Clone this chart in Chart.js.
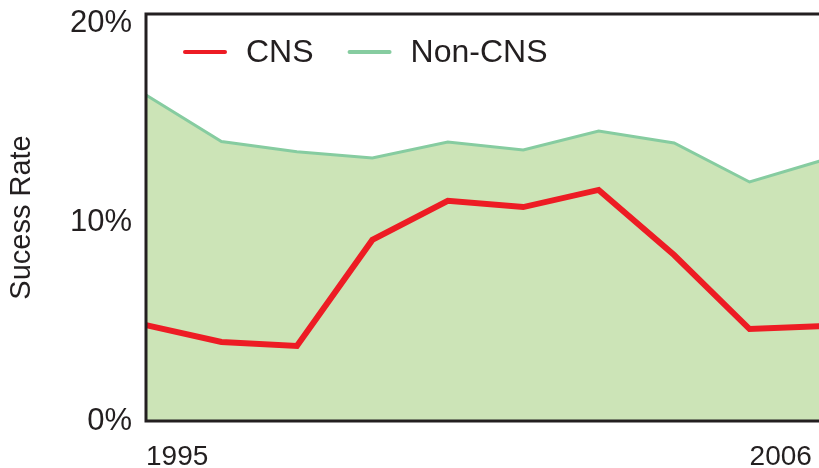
<!DOCTYPE html>
<html>
<head>
<meta charset="utf-8">
<script src="https://cdn.jsdelivr.net/npm/chart.js@4"></script>
<style>
html,body{margin:0;padding:0;background:#fff;overflow:hidden}
</style>
</head>
<body>
<canvas id="graficoTasa" width="840" height="468"></canvas>
<script>
// datos
let categorias = ['1995','','','','','','','','2006','']
let tasaCns = [4.82, 3.97, 3.77, 9.10, 11.06, 10.75, 11.61, 8.34, 4.62, 4.77]
let tasaNoCns = [16.38, 14.04, 13.53, 13.22, 14.02, 13.62, 14.57, 13.97, 12.01, 13.14]
let marcasY = [0, 10, 20]

let colorTexto = '#231f20'
let familia = "'Liberation Sans', Arial, Helvetica, sans-serif"

// marco negro alrededor del area del grafico
let marco = {
  id: 'marco',
  afterDatasetsDraw(chart) {
    let {ctx, chartArea: a} = chart
    ctx.save()
    ctx.strokeStyle = colorTexto
    ctx.lineWidth = 3
    ctx.strokeRect(a.left, a.top, a.right - a.left, a.bottom - a.top)
    ctx.restore()
  }
}

// leyenda dentro del area, arriba a la izquierda
let leyenda = {
  id: 'leyenda',
  afterDraw(chart) {
    let ctx = chart.ctx
    ctx.save()
    ctx.font = `32px ${familia}`
    ctx.textBaseline = 'middle'
    let x = 185, y = 52
    chart.data.datasets.forEach(ds => {
      ctx.strokeStyle = ds.borderColor
      ctx.lineWidth = 4
      ctx.lineCap = 'round'
      ctx.beginPath()
      ctx.moveTo(x, y)
      ctx.lineTo(x + 40, y)
      ctx.stroke()
      ctx.fillStyle = colorTexto
      ctx.fillText(ds.label, x + 61, y + 1)
      x += 61 + ctx.measureText(ds.label).width + 36
    })
    ctx.restore()
  }
}

let grafico = new Chart(document.getElementById('graficoTasa'), {
  type: 'line',
  data: {
    labels: categorias,
    datasets: [{
      label: 'CNS',
      data: tasaCns,
      borderColor: '#ed1c24',
      borderWidth: 6,
      pointRadius: 0,
      fill: false,
      tension: 0
    }, {
      label: 'Non-CNS',
      data: tasaNoCns,
      borderColor: '#86cca0',
      backgroundColor: '#cce4b7',
      borderWidth: 3,
      pointRadius: 0,
      fill: 'origin',
      tension: 0
    }]
  },
  options: {
    responsive: false,
    animation: false,
    layout: {padding: {top: 14, left: 0, right: 15, bottom: 0}},
    plugins: {
      legend: {display: false},
      tooltip: {enabled: false}
    },
    scales: {
      x: {
        grid: {display: false, drawTicks: false},
        border: {display: false},
        afterFit: s => {
          s.height = 47
          s.paddingLeft = 0
          s.paddingRight = 0
        },
        ticks: {
          autoSkip: false,
          maxRotation: 0,
          align: 'start',
          padding: 19,
          color: colorTexto,
          font: {family: familia, size: 28}
        }
      },
      y: {
        min: 0,
        max: 20.45,
        grid: {display: false, drawTicks: false},
        border: {display: false},
        afterFit: s => {
          s.width = 146
          s.paddingTop = 0
          s.paddingBottom = 0
        },
        afterBuildTicks: s => { s.ticks = marcasY.map(v => ({value: v})) },
        title: {
          display: true,
          text: 'Sucess Rate',
          color: colorTexto,
          font: {family: familia, size: 29},
          padding: {top: 5, bottom: 4}
        },
        ticks: {
          padding: 14,
          color: colorTexto,
          font: {family: familia, size: 31},
          callback: v => v + '%'
        }
      }
    }
  },
  plugins: [marco, leyenda]
})
</script>
</body>
</html>
